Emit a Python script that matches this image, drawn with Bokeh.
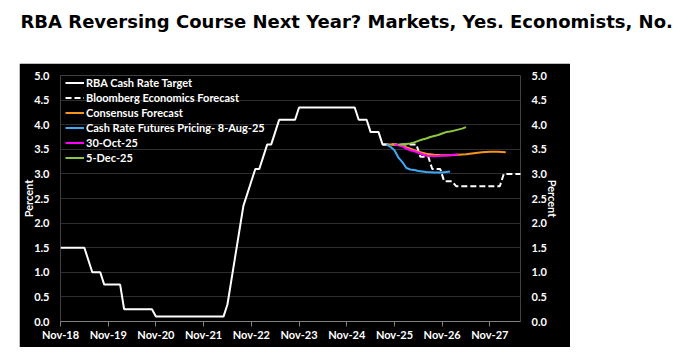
from bokeh.plotting import figure
from bokeh.layouts import column
from bokeh.models import (FixedTicker, Legend, LegendItem, Range1d,
                          LinearAxis, NumeralTickFormatter)
from bokeh.embed import file_html
from bokeh.resources import INLINE

# ---------------- data (x = months since Nov-2018) ----------------
tick_months = [0, 12, 24, 36, 48, 60, 72, 84, 96, 108]
tick_labels = ["Nov-18", "Nov-19", "Nov-20", "Nov-21", "Nov-22",
               "Nov-23", "Nov-24", "Nov-25", "Nov-26", "Nov-27"]
y_ticks = [0.0, 0.5, 1.0, 1.5, 2.0, 2.5, 3.0, 3.5, 4.0, 4.5, 5.0]

rba_x = list(range(0, 83))
rba_y = [1.5, 1.5, 1.5, 1.5, 1.5, 1.5, 1.5, 1.25, 1.0, 1.0, 1.0,
         0.75, 0.75, 0.75, 0.75, 0.75,
         0.25, 0.25, 0.25, 0.25, 0.25, 0.25, 0.25, 0.25,
         0.1, 0.1, 0.1, 0.1, 0.1, 0.1, 0.1, 0.1, 0.1, 0.1, 0.1, 0.1, 0.1, 0.1, 0.1, 0.1, 0.1, 0.1,
         0.35, 0.85, 1.35, 1.85, 2.35, 2.6, 2.85, 3.1, 3.1, 3.35, 3.6, 3.6, 3.85,
         4.1, 4.1, 4.1, 4.1, 4.1,
         4.35, 4.35, 4.35, 4.35, 4.35, 4.35, 4.35, 4.35, 4.35, 4.35, 4.35, 4.35, 4.35, 4.35, 4.35,
         4.1, 4.1, 4.1, 3.85, 3.85, 3.85, 3.6, 3.6]

bbg_x = [81, 89.5, 90.5, 92.5, 93.5, 95.5, 96.5, 98.5, 99.5, 110.5, 111.5, 116]
bbg_y = [3.6, 3.6, 3.35, 3.35, 3.1, 3.1, 2.85, 2.85, 2.75, 2.75, 3.0, 3.0]

cons_x = [82, 84, 86, 88, 90, 92, 94, 96, 98, 100, 102, 104, 106, 108, 110, 112]
cons_y = [3.60, 3.60, 3.57, 3.51, 3.45, 3.41, 3.39, 3.38, 3.38, 3.39, 3.40, 3.42, 3.44, 3.45, 3.45, 3.44]

fut_aug_x = [82, 83, 84, 85, 86, 87, 88, 89, 90, 92, 94, 96, 98]
fut_aug_y = [3.60, 3.55, 3.48, 3.33, 3.24, 3.12, 3.09, 3.08, 3.06, 3.04, 3.03, 3.03, 3.05]

fut_oct_x = [84, 85, 86, 87, 88, 89, 90, 91, 92, 94, 96, 98, 100]
fut_oct_y = [3.60, 3.58, 3.56, 3.51, 3.48, 3.46, 3.43, 3.40, 3.37, 3.36, 3.37, 3.38, 3.40]

fut_dec_x = [85, 86, 87, 88, 89, 90, 91, 92, 93, 94, 95, 96, 97, 98, 99, 100, 101, 102]
fut_dec_y = [3.60, 3.60, 3.61, 3.62, 3.64, 3.67, 3.70, 3.72, 3.75, 3.77, 3.79, 3.82, 3.85, 3.86,
             3.88, 3.90, 3.92, 3.95]

labels = ["RBA Cash Rate Target", "Bloomberg Economics Forecast", "Consensus Forecast",
          "Cash Rate Futures Pricing- 8-Aug-25", "30-Oct-25", "5-Dec-25"]

FONT = "Lato"

# ---------------- title strip ----------------
pt = figure(width=689, height=63, output_backend="svg", toolbar_location=None,
            x_axis_location=None, y_axis_location=None,
            min_border_left=0, min_border_right=0, min_border_top=13, min_border_bottom=0,
            x_range=Range1d(0, 1), y_range=Range1d(0, 1))
pt.title.text = "RBA Reversing Course Next Year? Markets, Yes. Economists, No."
pt.title.text_font = "DejaVu Sans"
pt.title.text_font_size = "18px"
pt.title.text_font_style = "bold"
pt.title.text_color = "black"
pt.title.align = "left"
pt.title.offset = -21   # column aligns frames with the chart below (frame left at 41)
pt.title.standoff = 16
pt.grid.visible = False
pt.outline_line_color = None
pt.background_fill_color = "white"
pt.border_fill_color = "white"

# ---------------- main chart ----------------
p = figure(frame_width=460, frame_height=246, output_backend="svg", toolbar_location=None,
           x_range=Range1d(0, 115.7), y_range=Range1d(0, 5),
           background_fill_color="black", border_fill_color="black",
           min_border_left=41, min_border_right=50, min_border_top=12, min_border_bottom=26)
p.margin = (0, 0, 0, 19)
p.outline_line_color = None

r1 = p.line(rba_x, rba_y, line_color="white", line_width=2)
r2 = p.line(bbg_x, bbg_y, line_color="white", line_width=2, line_dash="6 3")
r3 = p.line(cons_x, cons_y, line_color="#F7941D", line_width=2)
r4 = p.line(fut_aug_x, fut_aug_y, line_color="#3FA9F5", line_width=2)
r5 = p.line(fut_oct_x, fut_oct_y, line_color="#FF00FF", line_width=2)
r6 = p.line(fut_dec_x, fut_dec_y, line_color="#8DC63F", line_width=2)

# x axis
xa = p.xaxis[0]
xa.ticker = FixedTicker(ticks=tick_months)
xa.major_label_overrides = {m: l for m, l in zip(tick_months, tick_labels)}
xa.axis_line_color = "#808080"
xa.major_tick_line_color = "#808080"
xa.major_tick_out = 5
xa.major_tick_in = 0
xa.minor_tick_line_color = None
xa.minor_tick_out = 0
xa.minor_tick_in = 0
xa.major_label_standoff = 1
xa.major_label_text_color = "white"
xa.major_label_text_font = FONT
xa.major_label_text_font_style = "bold"
xa.major_label_text_font_size = "11px"

# y axes
ra = LinearAxis()
p.add_layout(ra, "right")
for ax in (p.yaxis[0], ra):
    ax.ticker = FixedTicker(ticks=y_ticks)
    ax.formatter = NumeralTickFormatter(format="0.0")
    ax.axis_line_color = None
    ax.major_tick_line_color = None
    ax.minor_tick_line_color = None
    ax.major_tick_out = 0
    ax.major_tick_in = 0
    ax.minor_tick_out = 0
    ax.minor_tick_in = 0
    ax.major_label_standoff = 11
    ax.major_label_text_color = "white"
    ax.major_label_text_font = FONT
    ax.major_label_text_font_style = "bold"
    ax.major_label_text_font_size = "11px"
    ax.axis_label = "Percent"
    ax.axis_label_text_color = "white"
    ax.axis_label_text_font = FONT
    ax.axis_label_text_font_style = "bold"
    ax.axis_label_text_font_size = "11px"
    ax.axis_label_standoff = -4

p.xgrid.visible = False
p.ygrid.ticker = FixedTicker(ticks=y_ticks)
p.ygrid.grid_line_color = "#2e2e2e"
p.ygrid.grid_line_width = 1

legend = Legend(items=[LegendItem(label=l, renderers=[r]) for l, r in
                       zip(labels, [r1, r2, r3, r4, r5, r6])],
                location=(5, 156), orientation="vertical")
legend.background_fill_alpha = 0
legend.border_line_color = None
legend.padding = 0
legend.margin = 0
legend.spacing = 0
legend.label_height = 15
legend.glyph_height = 15
legend.glyph_width = 19
legend.label_standoff = 2
legend.label_text_color = "white"
legend.label_text_font = FONT
legend.label_text_font_style = "bold"
legend.label_text_font_size = "11px"
p.add_layout(legend)

layout = column(pt, p, spacing=0)
open("out.html", "w").write(file_html(layout, INLINE))
